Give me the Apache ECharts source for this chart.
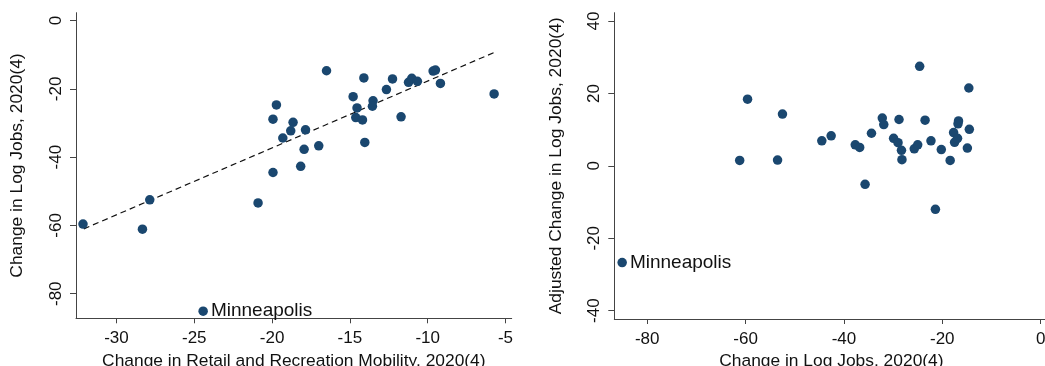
<!DOCTYPE html>
<html>
<head>
<meta charset="utf-8">
<script src="https://cdn.jsdelivr.net/npm/echarts@6/dist/echarts.min.js"></script>
<style>
html,body{margin:0;padding:0;background:#fff;overflow:hidden;}
#chart{width:1045px;height:366px;}
</style>
</head>
<body>
<div id="chart"></div>
<script>
// ---- Left panel: mobility vs change in log jobs ----
const leftX = [-32.15,-28.33,-27.86,-20.9,-19.94,-19.94,-19.72,-19.31,-18.8,-18.65,-18.16,-17.94,-17.85,-17.0,-16.5,-14.79,-14.54,-14.62,-14.19,-14.04,-14.1,-13.51,-13.55,-12.65,-12.26,-11.71,-11.23,-11.02,-10.66,-9.65,-9.5,-9.18,-5.73];
const leftY = [-59.6,-61.1,-52.5,-53.4,-44.5,-28.9,-24.7,-34.4,-32.3,-29.8,-42.7,-37.7,-32.0,-36.7,-14.7,-22.3,-25.6,-28.4,-29.1,-35.7,-16.8,-23.5,-25.1,-20.2,-17.1,-28.2,-18.1,-16.9,-17.8,-14.8,-14.5,-18.4,-21.5];
const leftOutlier = {name: 'Minneapolis', x: -24.43, y: -85.1};
const fitX = [-32.1, -5.7];
const fitY = [-61.0, -9.3];
const leftXTicks = [-30,-25,-20,-15,-10,-5];
const leftYTicks = [0,-20,-40,-60,-80];

// ---- Right panel: change in log jobs vs adjusted change ----
const rightX = [-61.2,-59.6,-53.5,-52.5,-44.5,-42.6,-37.7,-36.8,-35.7,-34.4,-32.2,-31.9,-29.9,-29.0,-28.8,-28.3,-28.2,-25.7,-25.0,-24.6,-23.5,-22.3,-21.4,-20.2,-18.4,-17.7,-17.5,-16.9,-16.8,-16.7,-14.9,-14.6,-14.5];
const rightY = [1.5,18.4,1.6,14.3,6.9,8.3,5.8,5.1,-5.1,9.0,13.2,11.4,7.6,6.4,12.8,4.3,1.7,4.7,5.8,27.5,12.6,6.9,-12.0,4.5,1.5,9.2,6.5,7.6,11.6,12.4,4.9,21.5,10.1];
const rightOutlier = {name: 'Minneapolis', x: -85.1, y: -26.7};
const rightXTicks = [-80,-60,-40,-20,0];
const rightYTicks = [40,20,0,-20,-40];

const FONT = '"Liberation Sans", Arial, sans-serif';
const DOT = '#1a476f';
const AXIS = '#444';

function xAxisDef(idx, min, max, ticks, name) {
  return {
    type: 'value', gridIndex: idx, min: min, max: max,
    name: name, nameLocation: 'middle', nameGap: 34,
    nameTextStyle: {fontFamily: FONT, fontSize: 17.4, color: '#111'},
    axisLine: {show: true, onZero: false, lineStyle: {color: AXIS, width: 1}},
    axisTick: {show: true, length: 5, customValues: ticks, lineStyle: {color: AXIS}},
    axisLabel: {customValues: ticks, fontFamily: FONT, fontSize: 17, color: '#111', margin: 12},
    splitLine: {show: false}
  };
}
function yAxisDef(idx, min, max, ticks, name) {
  return {
    type: 'value', gridIndex: idx, min: min, max: max,
    name: name, nameLocation: 'middle', nameGap: 50, nameRotate: 90,
    nameTextStyle: {fontFamily: FONT, fontSize: 17.4, color: '#111'},
    axisLine: {show: true, onZero: false, lineStyle: {color: AXIS, width: 1}},
    axisTick: {show: true, length: 6, customValues: ticks, lineStyle: {color: AXIS}},
    axisLabel: {customValues: ticks, rotate: 90, fontFamily: FONT, fontSize: 17, color: '#111', margin: 11},
    splitLine: {show: false}
  };
}

const zip = (a, b) => a.map((v, i) => [v, b[i]]);

const chart = echarts.init(document.getElementById('chart'), null, {renderer: 'canvas'});
chart.setOption({
  backgroundColor: '#fff',
  animation: false,
  grid: [
    {left: 76, top: 12.7, width: 435.7, height: 305.6, containLabel: false, outerBoundsMode: 'none'},
    {left: 614.3, top: 12.7, width: 434.2, height: 306.3, containLabel: false, outerBoundsMode: 'none'}
  ],
  xAxis: [
    xAxisDef(0, -32.6, -4.6, leftXTicks, 'Change in Retail and Recreation Mobility, 2020(4)'),
    xAxisDef(1, -86.7, 1.6, rightXTicks, 'Change in Log Jobs, 2020(4)')
  ],
  yAxis: [
    yAxisDef(0, -87.2, 2.3, leftYTicks, 'Change in Log Jobs, 2020(4)'),
    yAxisDef(1, -42.3, 42.3, rightYTicks, 'Adjusted Change in Log Jobs, 2020(4)')
  ],
  series: [
    {
      type: 'line', xAxisIndex: 0, yAxisIndex: 0, data: zip(fitX, fitY),
      symbol: 'none', lineStyle: {color: '#111', width: 1.2, type: [6, 4]}, z: 1
    },
    {
      type: 'scatter', xAxisIndex: 0, yAxisIndex: 0, data: zip(leftX, leftY),
      symbolSize: 9.5, itemStyle: {color: DOT, opacity: 1}, z: 2
    },
    {
      type: 'scatter', xAxisIndex: 0, yAxisIndex: 0,
      data: [{value: [leftOutlier.x, leftOutlier.y], name: leftOutlier.name}],
      symbolSize: 9.5, itemStyle: {color: DOT, opacity: 1},
      label: {show: true, position: 'right', distance: 3, formatter: '{b}', fontFamily: FONT, fontSize: 19, color: '#111'}
    },
    {
      type: 'scatter', xAxisIndex: 1, yAxisIndex: 1, data: zip(rightX, rightY),
      symbolSize: 9.5, itemStyle: {color: DOT, opacity: 1}
    },
    {
      type: 'scatter', xAxisIndex: 1, yAxisIndex: 1,
      data: [{value: [rightOutlier.x, rightOutlier.y], name: rightOutlier.name}],
      symbolSize: 9.5, itemStyle: {color: DOT, opacity: 1},
      label: {show: true, position: 'right', distance: 3, formatter: '{b}', fontFamily: FONT, fontSize: 19, color: '#111'}
    }
  ]
});
</script>
</body>
</html>
